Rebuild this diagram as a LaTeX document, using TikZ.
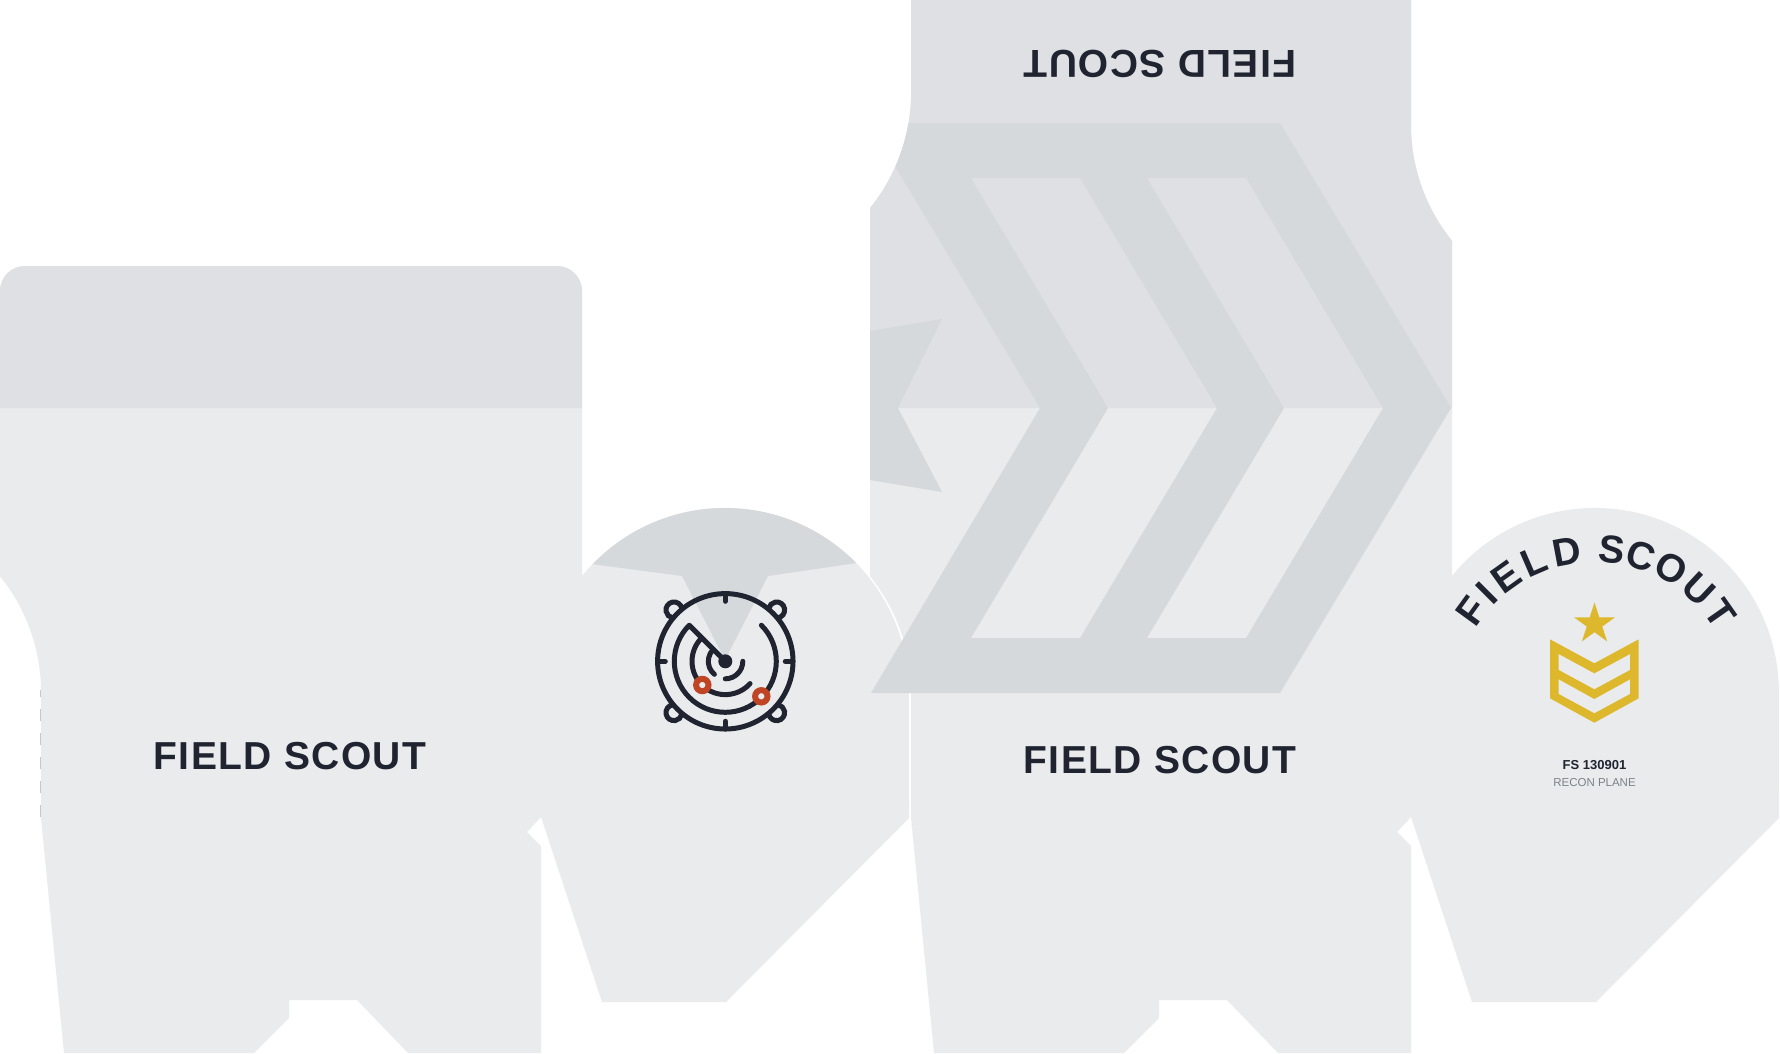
\documentclass[tikz,border=0pt]{standalone}
\usepackage{fontspec}
\setmainfont{Liberation Sans}
\newfontfamily\scoutfont[LetterSpace=3.6]{Liberation Sans}
\usetikzlibrary{positioning}
\definecolor{panelcol}{HTML}{EAEBED}
\definecolor{flapcol}{HTML}{DFE0E4}
\definecolor{markcol}{HTML}{D6D9DC}
\definecolor{inkcol}{HTML}{1F2430}
\definecolor{goldcol}{HTML}{DDB82C}
\definecolor{redcol}{HTML}{C04525}
\definecolor{greycol}{HTML}{7C8189}
% right side, round tab and bottom, shared by both panels
\newcommand{\panellower}{(582,576) arc[start angle=219.05,end angle=360,radius=184]
  -- (909,818) -- (726,1002) -- (602,1002) -- (541,817) -- (527,832) -- (541,846)
  -- (541,1053) -- (408,1053) -- (357,1000) -- (289,1000) -- (289,1018) -- (254,1053)
  -- (64,1053) -- (41,818) -- (41,692) arc[start angle=0,end angle=-39.05,radius=184]}
\begin{document}
\begin{tikzpicture}[
      x=1pt,y=1pt,yscale=-1,
      title/.style={inner sep=0pt,anchor=base,text=inkcol,font=\scoutfont\bfseries\fontsize{39}{39}\selectfont},
      letter/.style={inner sep=0pt,anchor=base,text=inkcol,font=\bfseries\fontsize{39}{39}\selectfont},
      icon/.style={draw=inkcol,line width=5pt,line cap=round},
      blip/.style={draw=redcol,fill=panelcol,line width=6pt}
    ]
    \useasboundingbox (0,0) rectangle (1780,1053);

    % left panel
    \fill[panelcol] (0,291) arc[start angle=180,end angle=270,radius=25] -- (557,266)
      arc[start angle=270,end angle=360,radius=25] -- \panellower -- cycle;
    \begin{scope}
      \clip (0,0) rectangle (600,408);
      \fill[flapcol] (0,291) arc[start angle=180,end angle=270,radius=25] -- (557,266)
        arc[start angle=270,end angle=360,radius=25] -- (582,408) -- (0,408) -- cycle;
    \end{scope}
    \draw[draw=black!22,line width=1pt,dash pattern=on 12pt off 12pt] (40.5,817) -- (40.5,690);

    % tab mark
    \begin{scope}
      \clip (725,692) circle[radius=184];
      \fill[markcol] (500,500) -- (950,500) -- (857,563) -- (768,576) -- (725,660) -- (682,576) -- (591,564) -- (500,552) -- cycle;
    \end{scope}

    % middle panel
    \begin{scope}[xshift=870pt]
      \fill[panelcol] (0,576) -- (0,208) arc[start angle=39.05,end angle=0,radius=184] -- (41,0) -- (541,0) -- (541,125)
        arc[start angle=180,end angle=140.95,radius=184] -- \panellower -- cycle;
      \begin{scope}
        \clip (-1,0) rectangle (600,408);
        \fill[flapcol] (0,408) -- (0,208) arc[start angle=39.05,end angle=0,radius=184] -- (41,0) -- (541,0) -- (541,125)
          arc[start angle=180,end angle=140.95,radius=184] -- (582,408) -- cycle;
      \end{scope}
    \end{scope}

    % chevrons
    \begin{scope}
      \clip (870,208) arc[start angle=39.05,end angle=0,radius=184] -- (911,0) -- (1500,0) -- (1500,800) -- (870,800) -- cycle;
      \fill[markcol,even odd rule] (869,123) -- (1280,123) -- (1451,408) -- (1280,693) -- (871,693) -- (1040,408) -- cycle
        (971,178) -- (1080,178) -- (1217,408) -- (1080,638) -- (971,638) -- (1108,408) -- cycle
        (1147,178) -- (1246,178) -- (1383,408) -- (1246,638) -- (1147,638) -- (1284,408) -- cycle;
      \fill[markcol] (870,331) -- (942,319) -- (898,408) -- (942,492) -- (870,480) -- cycle;
    \end{scope}

    % titles
    \node[title] (lefttitle) at (290,769) {FIELD SCOUT};
    \node[title] (midtitle) at (1160,773) {FIELD SCOUT};
    \node[title,rotate=180] (fliptitle) at (1160,50) {FIELD SCOUT};

    % radar
    \draw[icon] (725.3,661.3) circle[radius=67.7];
    \foreach \a in {0,90,180,270}
      \draw[icon] ({725.3+67.7*cos(\a)},{661.3+67.7*sin(\a)}) -- ({725.3+60*cos(\a)},{661.3+60*sin(\a)});
    \foreach \a in {45,135,225,315}
      \draw[icon] ({725.3+72.6*cos(\a)+8*cos(\a+125)},{661.3+72.6*sin(\a)+8*sin(\a+125)})
        arc[start angle=\a+125,end angle=\a-125,radius=8];
    \draw[icon,line join=round] (725.3,661.3) -- ({725.3+51*cos(225)},{661.3+51*sin(225)})
      arc[start angle=225,end angle=-45,radius=51];
    \draw[icon] ({725.3+33.3*cos(42)},{661.3+33.3*sin(42)}) arc[start angle=42,end angle=222,radius=33.3];
    \draw[icon] ({725.3+17*cos(130)},{661.3+17*sin(130)}) arc[start angle=130,end angle=225,radius=17];
    \draw[icon] ({725.3+17.5},661.3) arc[start angle=0,end angle=90,radius=17.5];
    \fill[inkcol] (725.3,661.3) circle[radius=7];
    \draw[blip] (702.3,685) circle[radius=6.2];
    \draw[blip] (761.3,696.3) circle[radius=6.2];

    % round label
    \foreach \ch/\a [count=\i] in {F/-54,I/-45,E/-35.5,L/-23.4,D/-10.7,S/6.5,C/17.7,O/29.9,U/43,T/55}
      \node[letter,rotate=-\a] (arc\i) at ({1595+139*sin(\a)},{701-139*cos(\a)}) {\ch};
    \fill[goldcol] (1594.5,602.5) -- (1599.3,617.4) -- (1614.9,617.4) -- (1602.3,626.5) -- (1607.1,641.4) -- (1594.5,632.2)
      -- (1581.9,641.4) -- (1586.7,626.5) -- (1574.1,617.4) -- (1589.7,617.4) -- cycle;
    \fill[goldcol,even odd rule] (1550,639.3) -- (1594.3,663.3) -- (1638.7,639.3) -- (1638.7,698.3) -- (1594.3,722.7) -- (1550,698.3) -- cycle
      (1558.7,654) -- (1594.3,673.3) -- (1630,654) -- (1630,670) -- (1594.3,689.3) -- (1558.7,670) -- cycle
      (1558.7,679.3) -- (1594.3,699) -- (1630,679.3) -- (1630,694) -- (1594.3,713.3) -- (1558.7,694) -- cycle;
    \node[inner sep=0pt,anchor=base,text=inkcol,font=\bfseries\fontsize{13}{13}\selectfont] (serial) at (1594.5,769.5) {FS 130901};
    \node[inner sep=0pt,anchor=base,text=greycol,font=\fontsize{11.5}{11.5}\selectfont] (kind) at (1594.5,786.7) {RECON PLANE};

  \end{tikzpicture}
\end{document}
